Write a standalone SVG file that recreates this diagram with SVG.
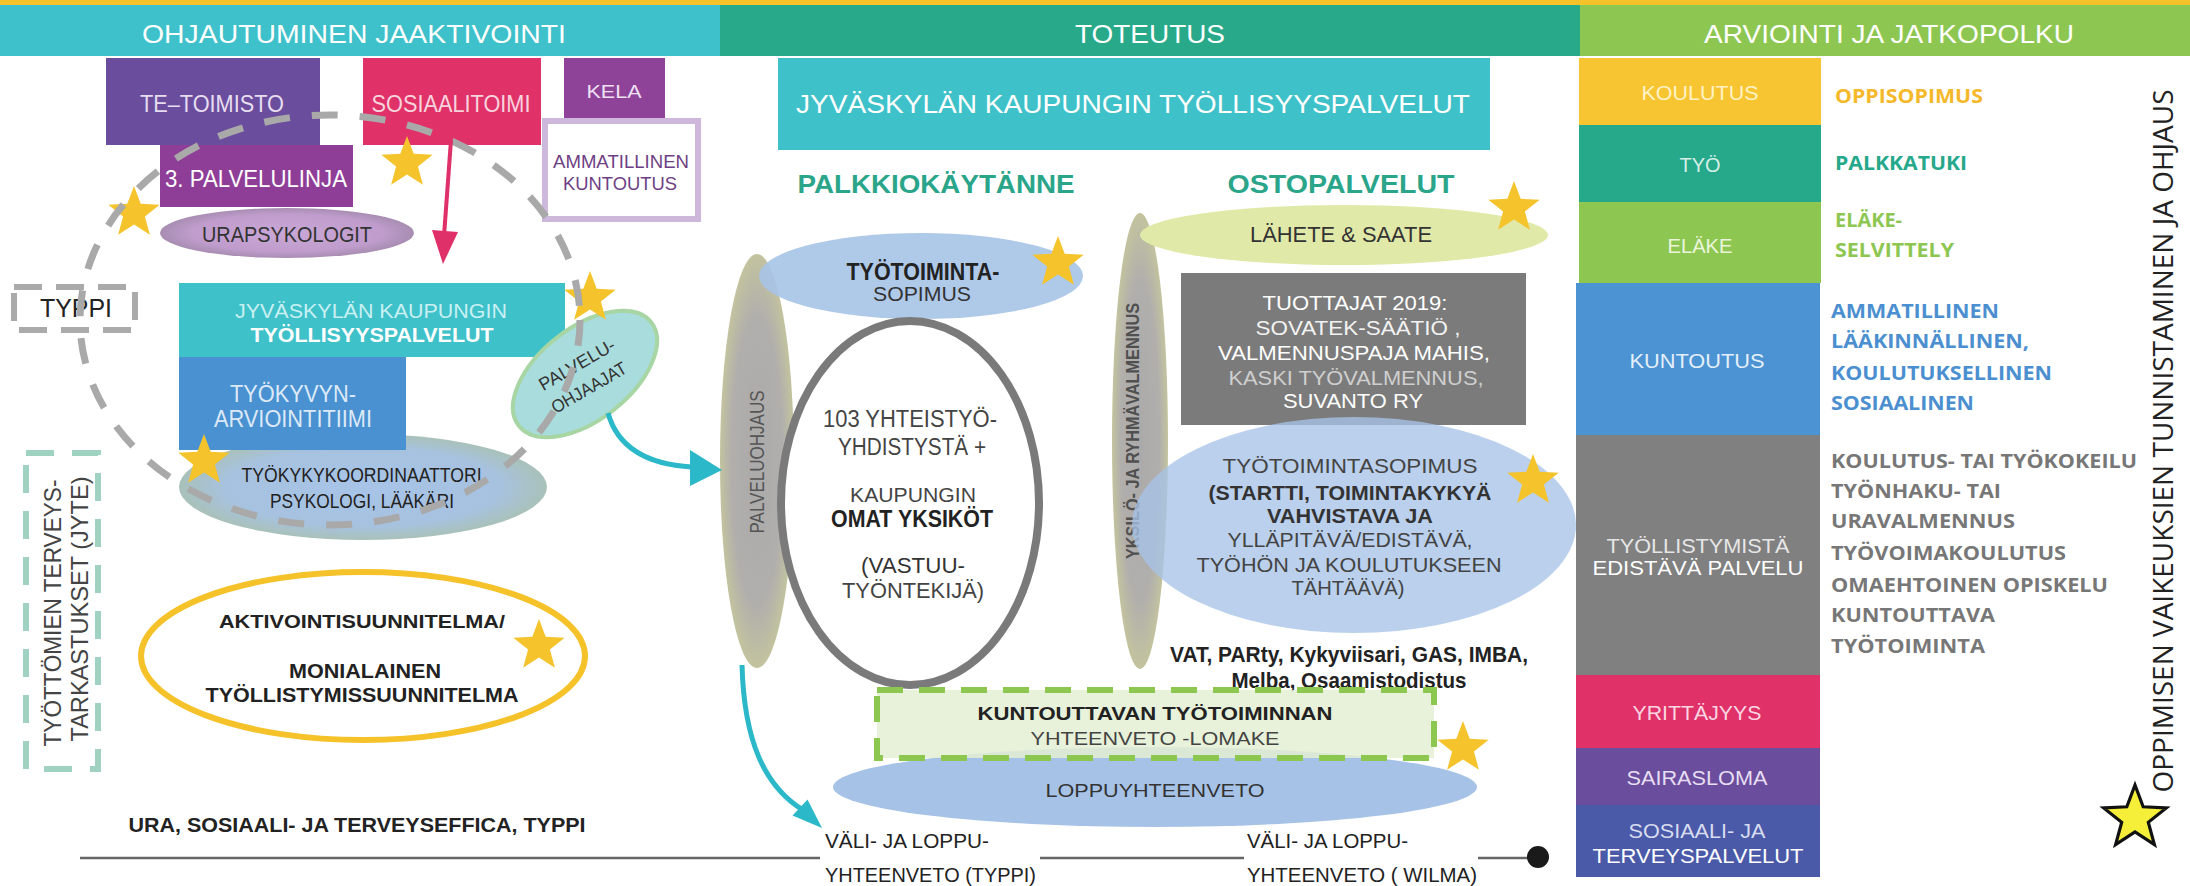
<svg xmlns="http://www.w3.org/2000/svg" xmlns:xlink="http://www.w3.org/1999/xlink" width="2190" height="886" viewBox="0 0 2190 886">
<style>
text{font-family:"Liberation Sans",Arial,sans-serif;text-anchor:middle}
.b{font-weight:bold}
.st{text-anchor:start}
.o{font-family:"Open Sans","Liberation Sans",sans-serif;font-weight:bold;text-anchor:start;font-size:20px}
.w{fill:#ffffff}
.d{fill:#222222}
.g{fill:#777777}
</style>
<defs>
<path id="star" d="M0,-27 L6.7,-9.2 L25.7,-8.3 L10.9,3.5 L15.9,21.8 L0,11.4 L-15.9,21.8 L-10.9,3.5 L-25.7,-8.3 L-6.7,-9.2 Z"/>
<radialGradient id="pill" cx="0.5" cy="0.5" r="0.5">
<stop offset="0" stop-color="#abaaaa"/>
<stop offset="0.7" stop-color="#b1afac"/>
<stop offset="1" stop-color="#c3c39f"/>
</radialGradient>
<radialGradient id="coord" cx="0.5" cy="0.5" r="0.5">
<stop offset="0" stop-color="#a7c4e8"/>
<stop offset="0.75" stop-color="#a7c2df"/>
<stop offset="1" stop-color="#a9c1b9"/>
</radialGradient>
<radialGradient id="ura" cx="0.5" cy="0.5" r="0.5">
<stop offset="0" stop-color="#c9a7d6"/>
<stop offset="0.75" stop-color="#bf9ccc"/>
<stop offset="1" stop-color="#a88db2"/>
</radialGradient>
</defs>
<rect x="0" y="0" width="2190" height="886" fill="#ffffff"/>

<g id="header">
<rect x="0" y="0" width="2190" height="6" fill="#f5c22a"/>
<rect x="0" y="5" width="720" height="51" fill="#3ec1ca"/>
<rect x="720" y="5" width="860" height="51" fill="#27a98a"/>
<rect x="1580" y="5" width="610" height="51" fill="#8dc752"/>
<text x="354" y="43" font-size="25" class="w" textLength="424" lengthAdjust="spacingAndGlyphs">OHJAUTUMINEN JAAKTIVOINTI</text>
<text x="1150" y="43" font-size="25" class="w" textLength="150" lengthAdjust="spacingAndGlyphs">TOTEUTUS</text>
<text x="1889" y="43" font-size="25" class="w" textLength="370" lengthAdjust="spacingAndGlyphs">ARVIOINTI JA JATKOPOLKU</text>
</g>

<!-- LEFT COLUMN -->
<g id="te-toimisto">
<rect x="106" y="58" width="214" height="87" fill="#6b4d9e"/>
<text x="212" y="112" font-size="23" fill="#e6def0" textLength="144" lengthAdjust="spacingAndGlyphs">TE–TOIMISTO</text>
</g>
<g id="sosiaalitoimi">
<rect x="363" y="58" width="178" height="87" fill="#e03268"/>
<text x="451" y="112" font-size="23" fill="#f7d3de" textLength="159" lengthAdjust="spacingAndGlyphs">SOSIAALITOIMI</text>
</g>
<g id="kela">
<rect x="564" y="58" width="101" height="60" fill="#8e4399"/>
<text x="614" y="98" font-size="19" fill="#f0e0f4" textLength="55" lengthAdjust="spacingAndGlyphs">KELA</text>
</g>
<g id="ammatillinen-kuntoutus">
<rect x="545" y="121" width="153" height="98" fill="#ffffff" stroke="#cdb8dc" stroke-width="6"/>
<text x="621" y="168" font-size="18" fill="#6e3f84" textLength="136" lengthAdjust="spacingAndGlyphs">AMMATILLINEN</text>
<text x="620" y="190" font-size="18" fill="#6e3f84" textLength="114" lengthAdjust="spacingAndGlyphs">KUNTOUTUS</text>
</g>
<g id="palvelulinja">
<rect x="160" y="145" width="193" height="62" fill="#8f3e98"/>
<text x="256" y="187" font-size="23" class="w" textLength="182" lengthAdjust="spacingAndGlyphs">3. PALVELULINJA</text>
</g>
<g id="urapsykologit">
<ellipse cx="287" cy="233" rx="127" ry="25" fill="url(#ura)"/>
<text x="287" y="242" font-size="22" fill="#333333" textLength="170" lengthAdjust="spacingAndGlyphs">URAPSYKOLOGIT</text>
</g>
<g id="typpi">
<rect x="14" y="287" width="121" height="43" fill="none" stroke="#aaaaaa" stroke-width="6" stroke-dasharray="28 14"/>
<text x="76" y="317" font-size="26" class="d" textLength="72" lengthAdjust="spacingAndGlyphs">TYPPI</text>
</g>
<g id="tyokykykoordinaattori">
<ellipse cx="363" cy="487" rx="184" ry="53" fill="url(#coord)"/>
<text x="364" y="482" font-size="21" class="d" textLength="245" lengthAdjust="spacingAndGlyphs">TYÖKYKYKOORDINAATTORI,</text>
<text x="362" y="508" font-size="20" class="d" textLength="184" lengthAdjust="spacingAndGlyphs">PSYKOLOGI, LÄÄKÄRI</text>
</g>
<g id="jkl-tyollisyyspalvelut-left">
<rect x="179" y="283" width="386" height="74" fill="#3fc1ca"/>
<text x="371" y="318" font-size="21" fill="#c8f0f2" textLength="272" lengthAdjust="spacingAndGlyphs">JYVÄSKYLÄN KAUPUNGIN</text>
<text x="372" y="342" font-size="21" class="w b" textLength="243" lengthAdjust="spacingAndGlyphs">TYÖLLISYYSPALVELUT</text>
</g>
<g id="tyokyvyn-arviointitiimi">
<rect x="179" y="357" width="227" height="93" fill="#4a91d1"/>
<text x="293" y="402" font-size="23" fill="#dce9f7" textLength="126" lengthAdjust="spacingAndGlyphs">TYÖKYVYN-</text>
<text x="293" y="427" font-size="23" fill="#dce9f7" textLength="158" lengthAdjust="spacingAndGlyphs">ARVIOINTITIIMI</text>
</g>
<g id="palveluohjaajat">
<ellipse cx="585" cy="374" rx="84" ry="46" transform="rotate(-38 585 374)" fill="#a9dcdc" stroke="#a8d5a4" stroke-width="4"/>
<text transform="translate(580,370) rotate(-30)" font-size="18" fill="#333333" textLength="85" lengthAdjust="spacingAndGlyphs">PALVELU-</text>
<text transform="translate(592,393) rotate(-30)" font-size="18" fill="#333333" textLength="84" lengthAdjust="spacingAndGlyphs">OHJAAJAT</text>
</g>
<g id="aktivointisuunnitelma">
<ellipse cx="363" cy="656" rx="222" ry="84" fill="#ffffff" stroke="#f5c22a" stroke-width="6"/>
<text x="362" y="628" font-size="19" class="d b" textLength="286" lengthAdjust="spacingAndGlyphs">AKTIVOINTISUUNNITELMA/</text>
<text x="365" y="678" font-size="20" class="d b" textLength="152" lengthAdjust="spacingAndGlyphs">MONIALAINEN</text>
<text x="362" y="702" font-size="20" class="d b" textLength="313" lengthAdjust="spacingAndGlyphs">TYÖLLISTYMISSUUNNITELMA</text>
</g>
<g id="tyottomien-terveystarkastukset">
<rect x="26" y="453" width="72" height="316" fill="none" stroke="#a0d2c2" stroke-width="6" stroke-dasharray="28 18"/>
<text transform="translate(61,613) rotate(-90)" font-size="24" fill="#444444" textLength="267" lengthAdjust="spacingAndGlyphs">TYÖTTÖMIEN TERVEYS-</text>
<text transform="translate(88,609) rotate(-90)" font-size="24" fill="#444444" textLength="265" lengthAdjust="spacingAndGlyphs">TARKASTUKSET (JYTE)</text>
</g>
<g id="jarjestelmat">
<text x="357" y="832" font-size="21" class="d b" textLength="457" lengthAdjust="spacingAndGlyphs">URA, SOSIAALI- JA TERVEYSEFFICA, TYPPI</text>
</g>

<g id="stars-left" fill="#f5c42c">
<use xlink:href="#star" x="407" y="163"/>
<use xlink:href="#star" x="134" y="213"/>
<use xlink:href="#star" x="590" y="298"/>
<use xlink:href="#star" x="204" y="461"/>
<use xlink:href="#star" x="539" y="646"/>
</g>

<g id="aktivointi-ring">
<ellipse cx="330" cy="320" rx="250" ry="205" fill="none" stroke="#a9a9a9" stroke-width="7" stroke-dasharray="26 22"/>
</g>

<!-- MIDDLE COLUMN -->
<g id="jkl-tyollisyyspalvelut">
<rect x="778" y="58" width="712" height="92" fill="#3fc1ca"/>
<text x="1133" y="113" font-size="25" class="w" textLength="674" lengthAdjust="spacingAndGlyphs">JYVÄSKYLÄN KAUPUNGIN TYÖLLISYYSPALVELUT</text>
</g>
<g id="palkkiokaytanne">
<text x="936" y="193" font-size="25" class="b" fill="#2aa58a" textLength="277" lengthAdjust="spacingAndGlyphs">PALKKIOKÄYTÄNNE</text>
</g>
<g id="ostopalvelut">
<text x="1341" y="193" font-size="25" class="b" fill="#2aa58a" textLength="227" lengthAdjust="spacingAndGlyphs">OSTOPALVELUT</text>
</g>
<g id="palveluohjaus">
<ellipse cx="757" cy="461" rx="37" ry="207" fill="url(#pill)"/>
<text transform="translate(764,462) rotate(-90)" font-size="20" fill="#555555" textLength="143" lengthAdjust="spacingAndGlyphs">PALVELUOHJAUS</text>
</g>
<g id="tyotoimintasopimus-palkkio">
<ellipse cx="921" cy="276" rx="162" ry="43" fill="#a6c3e7" fill-opacity="0.9"/>
<text x="923" y="280" font-size="23" class="d b" textLength="153" lengthAdjust="spacingAndGlyphs">TYÖTOIMINTA-</text>
<text x="922" y="301" font-size="21" fill="#333333" textLength="98" lengthAdjust="spacingAndGlyphs">SOPIMUS</text>
</g>
<g id="yhteistyoyhdistykset">
<ellipse cx="910" cy="503" rx="129" ry="182" fill="#ffffff" stroke="#7a7a7a" stroke-width="8"/>
<text x="910" y="427" font-size="23" fill="#444444" textLength="174" lengthAdjust="spacingAndGlyphs">103 YHTEISTYÖ-</text>
<text x="912" y="455" font-size="23" fill="#444444" textLength="148" lengthAdjust="spacingAndGlyphs">YHDISTYSTÄ +</text>
<text x="913" y="502" font-size="21" fill="#444444" textLength="126" lengthAdjust="spacingAndGlyphs">KAUPUNGIN</text>
<text x="912" y="527" font-size="23" class="d b" textLength="162" lengthAdjust="spacingAndGlyphs">OMAT YKSIKÖT</text>
<text x="913" y="573" font-size="22" fill="#333333" textLength="104" lengthAdjust="spacingAndGlyphs">(VASTUU-</text>
<text x="913" y="598" font-size="22" fill="#444444" textLength="142" lengthAdjust="spacingAndGlyphs">TYÖNTEKIJÄ)</text>
</g>
<g id="yksilo-ryhmavalmennus">
<ellipse cx="1140" cy="441" rx="28" ry="228" fill="url(#pill)"/>
<text transform="translate(1139,431) rotate(-90)" font-size="18" class="b" fill="#505050" textLength="256" lengthAdjust="spacingAndGlyphs">YKSILÖ- JA RYHMÄVALMENNUS</text>
</g>
<g id="lahete-saate">
<ellipse cx="1344" cy="235" rx="204" ry="30" fill="#e1e9a9"/>
<text x="1341" y="242" font-size="22" fill="#333333" textLength="182" lengthAdjust="spacingAndGlyphs">LÄHETE &amp; SAATE</text>
</g>
<g id="tuottajat">
<rect x="1181" y="273" width="345" height="152" fill="#7b7b7b"/>
<text x="1355" y="310" font-size="21" class="w" textLength="185" lengthAdjust="spacingAndGlyphs">TUOTTAJAT 2019:</text>
<text x="1358" y="335" font-size="21" fill="#f2f2f2" textLength="205" lengthAdjust="spacingAndGlyphs">SOVATEK-SÄÄTIÖ ,</text>
<text x="1354" y="360" font-size="21" class="w" textLength="272" lengthAdjust="spacingAndGlyphs">VALMENNUSPAJA MAHIS,</text>
<text x="1356" y="385" font-size="21" fill="#cfcfcf" textLength="255" lengthAdjust="spacingAndGlyphs">KASKI TYÖVALMENNUS,</text>
<text x="1353" y="408" font-size="21" class="w" textLength="140" lengthAdjust="spacingAndGlyphs">SUVANTO RY</text>
</g>
<g id="tyotoimintasopimus-osto">
<ellipse cx="1354" cy="525" rx="222" ry="108" fill="#a6c3e7" fill-opacity="0.78"/>
<text x="1350" y="473" font-size="21" fill="#444444" textLength="255" lengthAdjust="spacingAndGlyphs">TYÖTOIMINTASOPIMUS</text>
<text x="1350" y="500" font-size="21" class="b" fill="#333333" textLength="283" lengthAdjust="spacingAndGlyphs">(STARTTI, TOIMINTAKYKYÄ</text>
<text x="1350" y="523" font-size="21" class="b" fill="#333333" textLength="166" lengthAdjust="spacingAndGlyphs">VAHVISTAVA JA</text>
<text x="1350" y="547" font-size="21" fill="#444444" textLength="245" lengthAdjust="spacingAndGlyphs">YLLÄPITÄVÄ/EDISTÄVÄ,</text>
<text x="1349" y="572" font-size="21" fill="#444444" textLength="305" lengthAdjust="spacingAndGlyphs">TYÖHÖN JA KOULUTUKSEEN</text>
<text x="1348" y="595" font-size="21" fill="#444444" textLength="113" lengthAdjust="spacingAndGlyphs">TÄHTÄÄVÄ)</text>
</g>
<g id="menetelmat">
<text x="1349" y="662" font-size="22" class="d b" textLength="358" lengthAdjust="spacingAndGlyphs">VAT, PARty, Kykyviisari, GAS, IMBA,</text>
<text x="1349" y="688" font-size="22" class="d b" textLength="235" lengthAdjust="spacingAndGlyphs">Melba, Osaamistodistus</text>
</g>
<g id="loppuyhteenveto">
<ellipse cx="1155" cy="787" rx="322" ry="40" fill="#a6c3e7"/>
<text x="1155" y="797" font-size="19" fill="#333333" textLength="219" lengthAdjust="spacingAndGlyphs">LOPPUYHTEENVETO</text>
</g>
<g id="kuntouttavan-lomake">
<rect x="877" y="690" width="557" height="68" fill="#e4efd2" fill-opacity="0.85" stroke="#8cc850" stroke-width="6" stroke-dasharray="26 16"/>
<text x="1155" y="720" font-size="19" class="d b" textLength="355" lengthAdjust="spacingAndGlyphs">KUNTOUTTAVAN TYÖTOIMINNAN</text>
<text x="1155" y="745" font-size="19" fill="#444444" textLength="249" lengthAdjust="spacingAndGlyphs">YHTEENVETO -LOMAKE</text>
</g>
<g id="valiyhteenveto-typpi">
<text x="825" y="848" font-size="21" class="d st" textLength="164" lengthAdjust="spacingAndGlyphs">VÄLI- JA LOPPU-</text>
<text x="825" y="882" font-size="21" class="d st" textLength="211" lengthAdjust="spacingAndGlyphs">YHTEENVETO (TYPPI)</text>
</g>
<g id="valiyhteenveto-wilma">
<text x="1247" y="848" font-size="21" class="d st" textLength="161" lengthAdjust="spacingAndGlyphs">VÄLI- JA LOPPU-</text>
<text x="1247" y="882" font-size="21" class="d st" textLength="230" lengthAdjust="spacingAndGlyphs">YHTEENVETO ( WILMA)</text>
</g>
<g id="stars-middle" fill="#f5c42c">
<use xlink:href="#star" x="1058" y="263"/>
<use xlink:href="#star" x="1514" y="208"/>
<use xlink:href="#star" x="1533" y="481"/>
<use xlink:href="#star" x="1463" y="748"/>
</g>

<!-- RIGHT COLUMN -->
<g id="koulutus">
<rect x="1579" y="58" width="242" height="67" fill="#f7c531"/>
<text x="1700" y="100" font-size="21" fill="#fff2c4" textLength="117" lengthAdjust="spacingAndGlyphs">KOULUTUS</text>
<text x="1835" y="103" class="o" fill="#f5b82a" textLength="148" lengthAdjust="spacingAndGlyphs">OPPISOPIMUS</text>
</g>
<g id="tyo">
<rect x="1579" y="125" width="242" height="77" fill="#26a88a"/>
<text x="1700" y="172" font-size="21" fill="#d5f0e8" textLength="41" lengthAdjust="spacingAndGlyphs">TYÖ</text>
<text x="1835" y="170" class="o" fill="#26a88a" textLength="132" lengthAdjust="spacingAndGlyphs">PALKKATUKI</text>
</g>
<g id="elake">
<rect x="1579" y="202" width="242" height="81" fill="#8dc752"/>
<text x="1700" y="253" font-size="21" fill="#eaf5dc" textLength="65" lengthAdjust="spacingAndGlyphs">ELÄKE</text>
<text x="1835" y="227" class="o" fill="#8dc752" textLength="67" lengthAdjust="spacingAndGlyphs">ELÄKE-</text>
<text x="1835" y="257" class="o" fill="#8dc752" textLength="119" lengthAdjust="spacingAndGlyphs">SELVITTELY</text>
</g>
<g id="kuntoutus">
<rect x="1576" y="283" width="244" height="152" fill="#4b93d3"/>
<text x="1697" y="368" font-size="21" fill="#e4effa" textLength="135" lengthAdjust="spacingAndGlyphs">KUNTOUTUS</text>
<text x="1831" y="318" class="o" fill="#4b8fd0" textLength="168" lengthAdjust="spacingAndGlyphs">AMMATILLINEN</text>
<text x="1831" y="348" class="o" fill="#4b8fd0" textLength="198" lengthAdjust="spacingAndGlyphs">LÄÄKINNÄLLINEN,</text>
<text x="1831" y="380" class="o" fill="#4b8fd0" textLength="221" lengthAdjust="spacingAndGlyphs">KOULUTUKSELLINEN</text>
<text x="1831" y="410" class="o" fill="#4b8fd0" textLength="143" lengthAdjust="spacingAndGlyphs">SOSIAALINEN</text>
</g>
<g id="tyollistymista-edistava">
<rect x="1576" y="435" width="244" height="240" fill="#808080"/>
<text x="1698" y="553" font-size="21" fill="#e6e6e6" textLength="183" lengthAdjust="spacingAndGlyphs">TYÖLLISTYMISTÄ</text>
<text x="1698" y="575" font-size="21" class="w" textLength="211" lengthAdjust="spacingAndGlyphs">EDISTÄVÄ PALVELU</text>
<text x="1831" y="468" class="o g" textLength="306" lengthAdjust="spacingAndGlyphs">KOULUTUS- TAI TYÖKOKEILU</text>
<text x="1831" y="498" class="o g" textLength="170" lengthAdjust="spacingAndGlyphs">TYÖNHAKU- TAI</text>
<text x="1831" y="528" class="o g" textLength="184" lengthAdjust="spacingAndGlyphs">URAVALMENNUS</text>
<text x="1831" y="560" class="o g" textLength="235" lengthAdjust="spacingAndGlyphs">TYÖVOIMAKOULUTUS</text>
<text x="1831" y="592" class="o g" textLength="277" lengthAdjust="spacingAndGlyphs">OMAEHTOINEN OPISKELU</text>
<text x="1831" y="622" class="o g" textLength="164" lengthAdjust="spacingAndGlyphs">KUNTOUTTAVA</text>
<text x="1831" y="653" class="o g" textLength="154" lengthAdjust="spacingAndGlyphs">TYÖTOIMINTA</text>
</g>
<g id="yrittajyys">
<rect x="1576" y="675" width="244" height="73" fill="#e03268"/>
<text x="1697" y="720" font-size="21" fill="#fbd5e2" textLength="129" lengthAdjust="spacingAndGlyphs">YRITTÄJYYS</text>
</g>
<g id="sairasloma">
<rect x="1576" y="748" width="244" height="57" fill="#6b4d9e"/>
<text x="1697" y="785" font-size="21" fill="#e6def2" textLength="141" lengthAdjust="spacingAndGlyphs">SAIRASLOMA</text>
</g>
<g id="sosiaali-terveyspalvelut">
<rect x="1576" y="805" width="244" height="72" fill="#4a5aa8"/>
<text x="1697" y="838" font-size="21" fill="#d7dcf0" textLength="137" lengthAdjust="spacingAndGlyphs">SOSIAALI- JA</text>
<text x="1698" y="863" font-size="21" class="w" textLength="211" lengthAdjust="spacingAndGlyphs">TERVEYSPALVELUT</text>
</g>
<g id="oppimisen-vaikeudet">
<text transform="translate(2173,441) rotate(-90)" font-size="28" style="font-family:'Open Sans','Liberation Sans',sans-serif" fill="#222222" textLength="703" lengthAdjust="spacingAndGlyphs">OPPIMISEN VAIKEUKSIEN TUNNISTAMINEN JA OHJAUS</text>
<use xlink:href="#star" x="2135" y="818" transform="translate(2135 818) scale(1.22) translate(-2135 -818)" fill="#f5ef3a" stroke="#111111" stroke-width="2.6"/>
</g>

<!-- CONNECTORS -->
<g id="connectors" fill="none">
<line x1="451" y1="140" x2="444" y2="236" stroke="#e0306a" stroke-width="4"/>
<polygon points="432,230 458,232 443,264" fill="#e0306a"/>
<path d="M608,413 Q622,463 692,467" stroke="#2bb8c8" stroke-width="5"/>
<polygon points="690,450 722,470 690,486" fill="#2bb8c8"/>
<path d="M742,665 C744,740 764,786 803,810" stroke="#2bb8c8" stroke-width="5"/>
<polygon points="792.5,815.6 807.5,799.6 822,828" fill="#2bb8c8"/>
<line x1="80" y1="858" x2="820" y2="858" stroke="#666666" stroke-width="2.5"/>
<line x1="1040" y1="858" x2="1244" y2="858" stroke="#666666" stroke-width="2.5"/>
<line x1="1478" y1="858" x2="1530" y2="858" stroke="#666666" stroke-width="2.5"/>
<circle cx="1538" cy="857" r="11" fill="#1a1a1a"/>
</g>
</svg>
